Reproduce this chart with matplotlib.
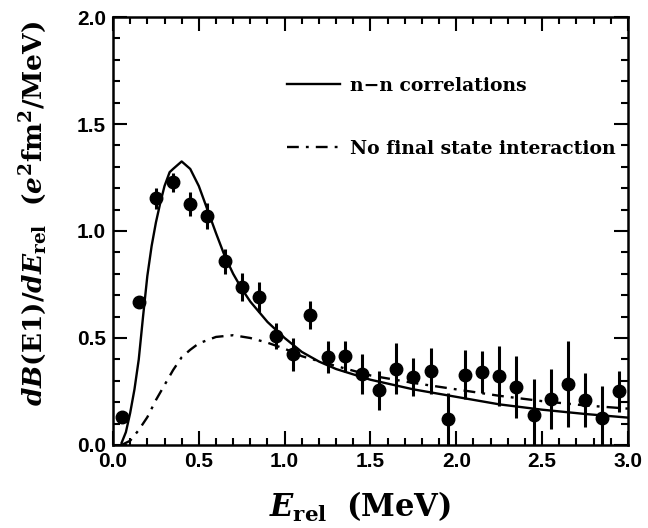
import numpy as np
import matplotlib
matplotlib.use('Agg')
import matplotlib.pyplot as plt
from matplotlib.ticker import MultipleLocator, FormatStrFormatter

plt.rcParams['mathtext.fontset'] = 'custom'
plt.rcParams['mathtext.rm'] = 'DejaVu Serif:bold'
plt.rcParams['mathtext.bf'] = 'DejaVu Serif:bold'
plt.rcParams['mathtext.it'] = 'DejaVu Serif:italic:bold'

# measured points
e_rel = [0.05, 0.15, 0.25, 0.35, 0.45, 0.55, 0.65, 0.75, 0.85, 0.95,
         1.05, 1.15, 1.25, 1.35, 1.45, 1.55, 1.65, 1.75, 1.85, 1.95,
         2.05, 2.15, 2.25, 2.35, 2.45, 2.55, 2.65, 2.75, 2.85, 2.95]
dbde = [0.133, 0.668, 1.153, 1.228, 1.127, 1.069, 0.858, 0.740, 0.692, 0.509,
        0.423, 0.606, 0.412, 0.415, 0.333, 0.255, 0.357, 0.318, 0.347, 0.122,
        0.329, 0.341, 0.324, 0.271, 0.138, 0.216, 0.286, 0.211, 0.128, 0.250]
dbde_err = [0.02, 0.03, 0.05, 0.045, 0.055, 0.06, 0.06, 0.065, 0.07, 0.06,
            0.075, 0.065, 0.075, 0.073, 0.094, 0.09, 0.12, 0.09, 0.107, 0.12,
            0.115, 0.10, 0.14, 0.146, 0.17, 0.14, 0.20, 0.127, 0.15, 0.094]

# n-n correlations curve
nn_x = [0.05, 0.075, 0.10, 0.125, 0.15, 0.175, 0.20, 0.225, 0.25, 0.275,
        0.30, 0.33, 0.35, 0.40, 0.45, 0.50, 0.55, 0.60, 0.65, 0.70,
        0.75, 0.80, 0.90, 1.00, 1.10, 1.20, 1.30, 1.50, 1.75, 2.00,
        2.25, 2.50, 2.75, 3.00]
nn_y = [0.01, 0.06, 0.15, 0.26, 0.40, 0.60, 0.79, 0.93, 1.04, 1.13,
        1.21, 1.275, 1.29, 1.325, 1.29, 1.21, 1.10, 0.99, 0.885, 0.80,
        0.73, 0.67, 0.575, 0.50, 0.435, 0.39, 0.355, 0.305, 0.26, 0.225,
        0.19, 0.165, 0.145, 0.128]

# no final state interaction curve
nofsi_x = [0.05, 0.10, 0.15, 0.20, 0.25, 0.30, 0.35, 0.40, 0.45, 0.50,
           0.60, 0.70, 0.80, 0.90, 1.00, 1.10, 1.25, 1.50, 1.75, 2.00,
           2.25, 2.50, 2.75, 3.00]
nofsi_y = [0.0, 0.02, 0.07, 0.13, 0.21, 0.28, 0.35, 0.41, 0.445, 0.475,
           0.505, 0.513, 0.50, 0.478, 0.45, 0.415, 0.38, 0.325, 0.29, 0.26,
           0.23, 0.205, 0.185, 0.17]

fig = plt.figure(figsize=(6.48, 5.28), dpi=100)
ax = fig.add_axes([0.1744, 0.1572, 0.7946, 0.8106])

ax.plot(nn_x, nn_y, color='black', lw=1.7, label='n\u2212n correlations')
ax.plot(nofsi_x, nofsi_y, color='black', lw=1.7, dashes=(5, 3, 1.2, 3),
        label='No final state interaction')
ax.errorbar(e_rel, dbde, yerr=dbde_err, fmt='o', color='black', ms=9,
            elinewidth=2.2, capsize=0, zorder=3)

ax.set_xlim(0, 3.0)
ax.set_ylim(0, 2.0)
ax.xaxis.set_major_locator(MultipleLocator(0.5))
ax.xaxis.set_minor_locator(MultipleLocator(0.1))
ax.yaxis.set_major_locator(MultipleLocator(0.5))
ax.yaxis.set_minor_locator(MultipleLocator(0.1))
ax.xaxis.set_major_formatter(FormatStrFormatter('%.1f'))
ax.yaxis.set_major_formatter(FormatStrFormatter('%.1f'))
ax.tick_params(which='both', direction='in', top=True, right=True, width=1.5)
ax.tick_params(which='major', length=10, labelsize=15, pad=5)
ax.tick_params(which='minor', length=5)
for lab in ax.get_xticklabels() + ax.get_yticklabels():
    lab.set_fontfamily('Liberation Sans')
    lab.set_fontweight('bold')
for sp in ax.spines.values():
    sp.set_linewidth(1.8)

ax.set_xlabel(r'$E_{\mathrm{rel}}$  $\mathrm{(MeV)}$', fontsize=22)
ax.set_ylabel(r'$dB(\mathrm{E1})/dE_{\mathrm{rel}}\ \ (e^{2}\mathrm{fm}^{2}/\mathrm{MeV})$',
              fontsize=19)
ax.xaxis.set_label_coords(0.48, -0.105)
ax.yaxis.set_label_coords(-0.125, 0.54)

leg = ax.legend(loc='upper left', bbox_to_anchor=(0.305, 0.90), frameon=False,
                handlelength=2.83, handletextpad=0.53, labelspacing=2.4,
                prop={'family': 'DejaVu Serif', 'weight': 'bold', 'size': 13.5})

fig.savefig('out.png', dpi=100)
